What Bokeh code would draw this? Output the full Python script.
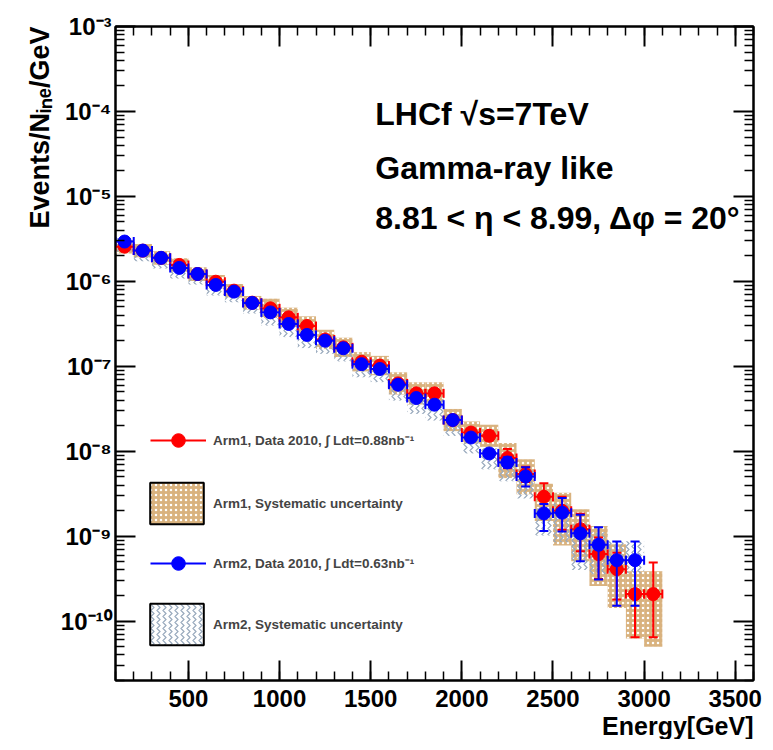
import math
from bokeh.plotting import figure
from bokeh.models import (ColumnDataSource, LinearAxis, LogAxis, Legend, LegendItem, Label, Title,
                          FixedTicker, SingleIntervalTicker, CustomJSTickFormatter, Range1d)
from bokeh.embed import file_html
from bokeh.resources import INLINE

# ---------------- data ----------------
energy_arm1 = [150, 250, 350, 450, 550, 650, 750, 850, 950, 1050, 1150, 1250, 1350, 1450, 1550,
               1650, 1750, 1850, 1950, 2050, 2150, 2250, 2350, 2450, 2550, 2650, 2750, 2850, 2950, 3050]
arm1_flux = [2.56e-6, 2.30e-6, 1.89e-6, 1.56e-6, 1.22e-6, 9.9e-7, 7.77e-7, 5.61e-7, 4.81e-7, 3.77e-7,
             2.98e-7, 2.07e-7, 1.67e-7, 1.13e-7, 1.02e-7, 6.29e-8, 4.80e-8, 4.80e-8, 2.33e-8, 1.66e-8,
             1.52e-8, 8.32e-9, 5.38e-9, 2.91e-9, 1.99e-9, 1.21e-9, 6.15e-10, 4.09e-10, 2.08e-10, 2.08e-10]
# relative statistical errors (up / down)
arm1_stat_up = [0.02, 0.02, 0.02, 0.02, 0.02, 0.02, 0.03, 0.03, 0.03, 0.03, 0.03, 0.04, 0.04, 0.04, 0.05,
                0.05, 0.06, 0.07, 0.08, 0.12, 0.14, 0.28, 0.22, 0.44, 0.46, 0.52, 0.57, 0.56, 1.35, 1.35]
arm1_stat_dn = [0.02, 0.02, 0.02, 0.02, 0.02, 0.02, 0.03, 0.03, 0.03, 0.03, 0.03, 0.04, 0.04, 0.04, 0.05,
                0.05, 0.06, 0.07, 0.08, 0.11, 0.12, 0.24, 0.19, 0.34, 0.40, 0.45, 0.49, 0.56, 0.69, 0.69]
# relative systematic uncertainty (up / down)
arm1_sys_up = [0.20, 0.20, 0.20, 0.20, 0.20, 0.20, 0.20, 0.20, 0.30, 0.30, 0.30, 0.30, 0.30, 0.30, 0.30,
               0.35, 0.35, 0.35, 0.35, 0.35, 0.35, 0.50, 0.50, 0.42, 0.63, 0.72, 1.14, 0.97, 0.86, 0.86]
arm1_sys_dn = [0.17, 0.17, 0.17, 0.17, 0.17, 0.17, 0.17, 0.17, 0.23, 0.23, 0.23, 0.23, 0.23, 0.23, 0.23,
               0.26, 0.26, 0.26, 0.26, 0.26, 0.26, 0.42, 0.42, 0.48, 0.61, 0.58, 0.58, 0.65, 0.70, 0.76]

energy_arm2 = [150, 250, 350, 450, 550, 650, 750, 850, 950, 1050, 1150, 1250, 1350, 1450, 1550,
               1650, 1750, 1850, 1950, 2050, 2150, 2250, 2350, 2450, 2550, 2650, 2750, 2850, 2950]
arm2_flux = [2.94e-6, 2.30e-6, 1.89e-6, 1.44e-6, 1.22e-6, 9.07e-7, 7.57e-7, 5.57e-7, 4.31e-7, 3.15e-7,
             2.34e-7, 2.00e-7, 1.63e-7, 1.06e-7, 9.29e-8, 6.07e-8, 4.23e-8, 3.53e-8, 2.33e-8, 1.45e-8,
             9.42e-9, 7.38e-9, 5.05e-9, 1.85e-9, 1.89e-9, 1.08e-9, 7.92e-10, 5.22e-10, 5.22e-10]
arm2_stat_up = [0.02, 0.02, 0.02, 0.02, 0.02, 0.02, 0.02, 0.03, 0.03, 0.03, 0.03, 0.03, 0.03, 0.04, 0.04,
                0.04, 0.05, 0.06, 0.06, 0.10, 0.10, 0.15, 0.28, 0.29, 0.49, 0.66, 0.61, 0.66, 0.66]
arm2_stat_dn = [0.02, 0.02, 0.02, 0.02, 0.02, 0.02, 0.02, 0.03, 0.03, 0.03, 0.03, 0.03, 0.03, 0.04, 0.04,
                0.04, 0.05, 0.06, 0.06, 0.10, 0.10, 0.13, 0.24, 0.38, 0.40, 0.53, 0.61, 0.71, 0.71]
arm2_sys_up = [0.10, 0.10, 0.10, 0.10, 0.10, 0.10, 0.10, 0.10, 0.12, 0.12, 0.12, 0.12, 0.12, 0.12, 0.12,
               0.15, 0.15, 0.15, 0.15, 0.15, 0.15, 0.20, 0.20, 0.15, 0.30, 0.30, 0.40, 0.67, 0.67]
arm2_sys_dn = [0.25, 0.25, 0.25, 0.25, 0.25, 0.25, 0.25, 0.25, 0.30, 0.30, 0.30, 0.30, 0.30, 0.30, 0.30,
               0.35, 0.35, 0.35, 0.35, 0.35, 0.35, 0.40, 0.45, 0.45, 0.55, 0.63, 0.55, 0.30, 0.30]

bin_half_width = 50

legend_labels = ["Arm1, Data 2010, \u222b Ldt=0.88nb\u207b\u00b9",
                 "Arm1, Systematic uncertainty",
                 "Arm2, Data 2010, \u222b Ldt=0.63nb\u207b\u00b9",
                 "Arm2, Systematic uncertainty"]

FONT = "Liberation Sans"
RED = "#ff0000"
BLUE = "#0000ff"
TAN = "#d9b27e"
HATCH2 = "#98a9bc"
NAN = float("nan")


def build_sources(E, f, su, sd, yu, yd):
    box = ColumnDataSource(dict(
        left=[e - bin_half_width for e in E], right=[e + bin_half_width for e in E],
        top=[v * (1 + u) for v, u in zip(f, yu)], bottom=[v * (1 - d) for v, d in zip(f, yd)]))
    pts = ColumnDataSource(dict(
        x=E, y=f,
        xl=[e - bin_half_width for e in E], xh=[e + bin_half_width for e in E],
        yl=[v * (1 - d) for v, d in zip(f, sd)], yh=[v * (1 + u) for v, u in zip(f, su)]))
    return box, pts


box1, pts1 = build_sources(energy_arm1, arm1_flux, arm1_stat_up, arm1_stat_dn, arm1_sys_up, arm1_sys_dn)
box2, pts2 = build_sources(energy_arm2, arm2_flux, arm2_stat_up, arm2_stat_dn, arm2_sys_up, arm2_sys_dn)

p = figure(frame_width=638, frame_height=654,
           x_range=Range1d(100, 3600), y_range=Range1d(2e-11, 1e-3),
           y_axis_type="log", output_backend="svg", toolbar_location=None,
           min_border_left=115, min_border_top=26, min_border_right=14, min_border_bottom=30)
p.xgrid.visible = False
p.ygrid.visible = False
p.outline_line_color = "black"
p.outline_line_width = 2
p.background_fill_color = "white"
p.border_fill_color = "white"

# systematic boxes
p.quad(left="left", right="right", top="top", bottom="bottom", source=box1,
       fill_color=TAN, line_color=None, hatch_pattern="dot", hatch_color="white",
       hatch_scale=5, hatch_weight=1.0)
p.quad(left="left", right="right", top="top", bottom="bottom", source=box2,
       fill_alpha=0, line_color=None, hatch_pattern="vertical_wave", hatch_color=HATCH2,
       hatch_scale=6, hatch_weight=1.2)


def draw_points(pts, color):
    p.segment(x0="xl", x1="xh", y0="y", y1="y", source=pts, line_color=color, line_width=2)
    p.segment(x0="x", x1="x", y0="yl", y1="yh", source=pts, line_color=color, line_width=2)
    p.scatter(x="xl", y="y", source=pts, marker="dash", angle=math.pi / 2, size=9,
              line_color=color, line_width=2)
    p.scatter(x="xh", y="y", source=pts, marker="dash", angle=math.pi / 2, size=9,
              line_color=color, line_width=2)
    p.scatter(x="x", y="yl", source=pts, marker="dash", size=9, line_color=color, line_width=2)
    p.scatter(x="x", y="yh", source=pts, marker="dash", size=9, line_color=color, line_width=2)
    return p.scatter(x="x", y="y", source=pts, marker="circle", size=13,
                     fill_color=color, line_color=color)


red_pts = draw_points(pts1, RED)
blue_pts = draw_points(pts2, BLUE)

# legend-only renderers (one undefined point each, nothing drawn in the plot)
red_line = p.line(x=[NAN, NAN], y=[NAN, NAN], line_color=RED, line_width=2)
blue_line = p.line(x=[NAN, NAN], y=[NAN, NAN], line_color=BLUE, line_width=2)
leg_box1 = p.quad(left=[NAN], right=[NAN], top=[NAN], bottom=[NAN], fill_color=TAN, line_color="black",
                  line_width=2, hatch_pattern="dot", hatch_color="white", hatch_scale=5, hatch_weight=1.0)
leg_box2 = p.quad(left=[NAN], right=[NAN], top=[NAN], bottom=[NAN], fill_color="white", line_color="black",
                  line_width=2, hatch_pattern="vertical_wave", hatch_color=HATCH2, hatch_scale=6,
                  hatch_weight=1.2)

common = dict(padding=0, margin=0, label_text_font=FONT, label_text_font_style="bold",
              label_text_font_size="13.5px", border_line_color=None, background_fill_alpha=0)
legend_pts = Legend(items=[LegendItem(label=legend_labels[0], renderers=[red_line, red_pts]),
                           LegendItem(label=legend_labels[2], renderers=[blue_line, blue_pts])],
                    location=(35, 100), spacing=89, glyph_width=56, glyph_height=34,
                    label_standoff=7, **common)
legend_box = Legend(items=[LegendItem(label=legend_labels[1], renderers=[leg_box1]),
                           LegendItem(label=legend_labels[3], renderers=[leg_box2])],
                    location=(28, 30), spacing=69, glyph_width=67, glyph_height=52,
                    label_standoff=3, **common)
p.add_layout(legend_pts, "center")
p.add_layout(legend_box, "center")

# axes
xt = SingleIntervalTicker(interval=500, num_minor_ticks=5)
decades = [10.0 ** e for e in range(-11, -2)]
minors = [k * 10.0 ** e for e in range(-11, -3) for k in range(2, 10)]
yt = FixedTicker(ticks=decades, minor_ticks=minors)
sup_fmt = CustomJSTickFormatter(code="""
const e = Math.round(Math.log10(tick));
const s = {'-':'\u207b','0':'\u2070','1':'\u00b9','2':'\u00b2','3':'\u00b3','4':'\u2074','5':'\u2075','6':'\u2076','7':'\u2077','8':'\u2078','9':'\u2079'};
return '10' + String(e).split('').map(c => s[c]).join('');
""")
blank = CustomJSTickFormatter(code="return '';")


def style_axis(ax):
    ax.axis_line_width = 2
    ax.major_tick_line_width = 2
    ax.minor_tick_line_width = 1.5
    ax.major_tick_in = 20
    ax.major_tick_out = 0
    ax.minor_tick_in = 9
    ax.minor_tick_out = 0
    ax.major_label_text_font = FONT
    ax.major_label_text_font_style = "bold"
    ax.major_label_text_font_size = "24px"
    ax.major_label_text_color = "black"


xa = p.xaxis[0]
xa.ticker = xt
style_axis(xa)
xa.major_label_standoff = 9
ya = p.yaxis[0]
ya.ticker = yt
ya.formatter = sup_fmt
style_axis(ya)
ya.major_label_standoff = 4

top_ax = LinearAxis(ticker=xt, formatter=blank)
style_axis(top_ax)
top_ax.major_label_standoff = 0
p.add_layout(top_ax, "above")
right_ax = LogAxis(ticker=yt, formatter=blank)
style_axis(right_ax)
right_ax.major_label_standoff = 0
p.add_layout(right_ax, "right")

p.add_layout(Title(text="Events/N\u1d62\u2099\u2091/GeV", align="right", text_font=FONT,
                   text_font_style="bold", text_font_size="27px", text_color="black",
                   standoff=6), "left")
p.add_layout(Title(text="Energy[GeV]", align="right", text_font=FONT, text_color="black",
                   text_font_style="bold", text_font_size="25px", standoff=0), "below")

# annotation text
for txt, yv in [("LHCf \u221as=7TeV", 9.4e-5), ("Gamma-ray like", 2.13e-5),
                ("8.81 < \u03b7 < 8.99, \u0394\u03c6 = 20\u00b0", 5.5e-6)]:
    p.add_layout(Label(x=1525, y=yv, text=txt, text_font=FONT, text_font_style="bold",
                       text_font_size="32px", text_baseline="alphabetic", text_color="black"))

open("out.html", "w").write(file_html(p, INLINE))
